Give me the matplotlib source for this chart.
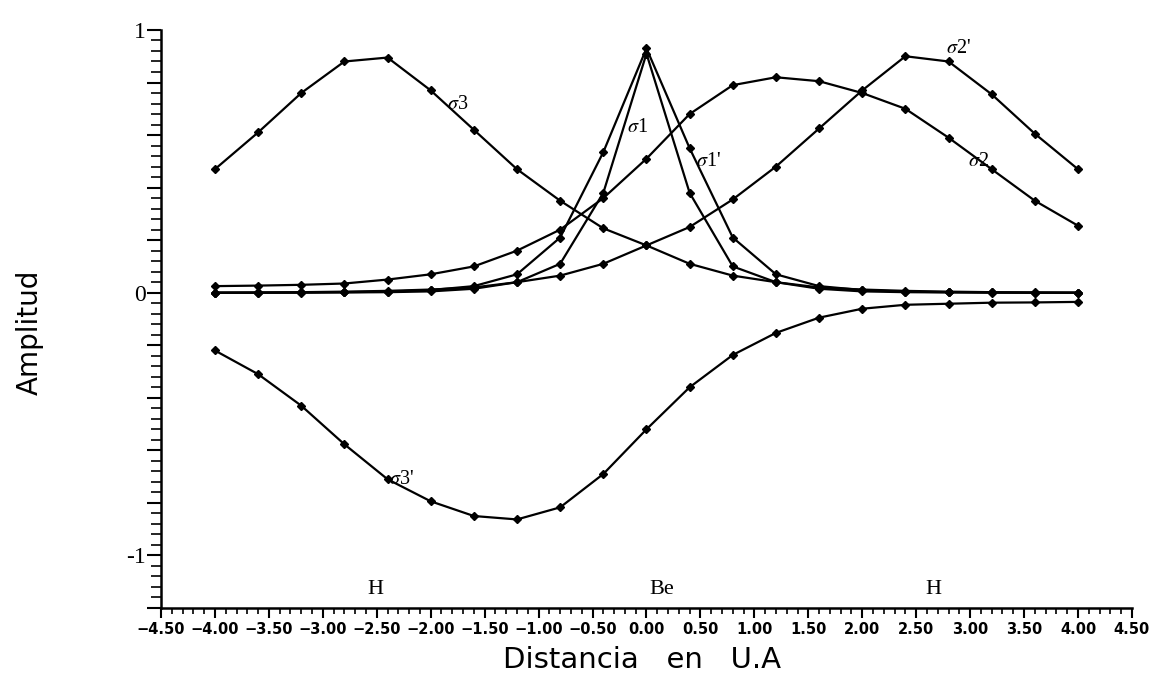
import numpy as np
import matplotlib
matplotlib.use("Agg")
import matplotlib.pyplot as plt
from matplotlib.ticker import FixedLocator, MultipleLocator, FuncFormatter

plt.rcParams['mathtext.fontset'] = 'stix'

# Amplitud de los orbitales sigma a lo largo del eje H-Be-H
x = [-4.0, -3.6, -3.2, -2.8, -2.4, -2.0, -1.6, -1.2, -0.8, -0.4, 0.0,
     0.4, 0.8, 1.2, 1.6, 2.0, 2.4, 2.8, 3.2, 3.6, 4.0]

sigma1 = [0.0, 0.0, 0.0, 0.001, 0.002, 0.005, 0.015, 0.04, 0.11, 0.38, 0.91,
          0.38, 0.10, 0.04, 0.015, 0.005, 0.002, 0.001, 0.0, 0.0, 0.0]
sigma1p = [0.0, 0.0, 0.001, 0.002, 0.004, 0.01, 0.025, 0.07, 0.21, 0.535, 0.93,
           0.55, 0.21, 0.07, 0.025, 0.01, 0.004, 0.002, 0.001, 0.0, 0.0]
sigma2 = [0.025, 0.027, 0.03, 0.035, 0.05, 0.07, 0.10, 0.16, 0.24, 0.36, 0.51,
          0.68, 0.79, 0.82, 0.805, 0.76, 0.70, 0.59, 0.47, 0.35, 0.255]
sigma2p = [0.0, 0.001, 0.002, 0.004, 0.007, 0.012, 0.02, 0.04, 0.065, 0.11, 0.18,
           0.25, 0.355, 0.48, 0.625, 0.77, 0.90, 0.88, 0.755, 0.605, 0.47]
sigma3 = [0.47, 0.61, 0.76, 0.88, 0.895, 0.77, 0.62, 0.47, 0.35, 0.245, 0.18,
          0.11, 0.065, 0.04, 0.02, 0.012, 0.007, 0.004, 0.002, 0.001, 0.0]
sigma3p = [-0.22, -0.31, -0.43, -0.577, -0.71, -0.794, -0.85, -0.863, -0.817, -0.69, -0.52,
           -0.36, -0.237, -0.153, -0.095, -0.061, -0.046, -0.042, -0.038, -0.037, -0.035]

series = [sigma1, sigma1p, sigma2, sigma2p, sigma3, sigma3p]

# etiquetas de las curvas (texto, x, y)
curve_labels = [(r"$\sigma$3", -1.75, 0.716), (r"$\sigma$1", -0.08, 0.63),
                (r"$\sigma$1'", 0.575, 0.50), (r"$\sigma$2'", 2.89, 0.93),
                (r"$\sigma$2", 3.08, 0.50), (r"$\sigma$3'", -2.27, -0.71)]
atom_labels = [("H", -2.51), ("Be", 0.14), ("H", 2.66)]

fig = plt.figure(figsize=(11.54, 6.75), dpi=100)
ax = fig.add_axes([0.1395, 0.0993, 0.8414, 0.8563])

for s in series:
    ax.plot(x, s, color="black", lw=1.6, marker="D", ms=3.6, mfc="black", mec="black")

for txt, tx, ty in curve_labels:
    ax.text(tx, ty, txt, fontsize=14.5, family="Liberation Serif", ha="center", va="center")
for txt, tx in atom_labels:
    ax.text(tx, -1.128, txt, fontsize=16, family="Liberation Serif", ha="center", va="center")

ax.set_xlim(-4.5, 4.5)
ax.set_ylim(-1.2, 1.0)

for side in ["top", "right"]:
    ax.spines[side].set_visible(False)
for side in ["left", "bottom"]:
    ax.spines[side].set_linewidth(1.8)

ax.xaxis.set_major_locator(MultipleLocator(0.5))
ax.xaxis.set_minor_locator(MultipleLocator(0.1))
ax.xaxis.set_major_formatter(FuncFormatter(lambda v, p: ("%.2f" % v).replace("-", "\u2212")))
ax.yaxis.set_major_locator(FixedLocator(np.round(np.arange(-1.2, 1.01, 0.2), 2)))
ax.yaxis.set_minor_locator(MultipleLocator(0.04))
ax.yaxis.set_major_formatter(FuncFormatter(
    lambda v, p: "%d" % round(v) if abs(v - round(v)) < 1e-6 else ""))

ax.tick_params(axis="x", which="major", length=7, width=1.5, direction="out", pad=3)
ax.tick_params(axis="x", which="minor", length=4, width=1.2, direction="out")
ax.tick_params(axis="y", which="major", length=10, width=1.5, direction="out", pad=1)
ax.tick_params(axis="y", which="minor", length=7, width=1.2, direction="out")

for lab in ax.get_xticklabels():
    lab.set_fontweight("bold")
    lab.set_fontsize(10.5)
for lab in ax.get_yticklabels():
    lab.set_family("Liberation Serif")
    lab.set_fontsize(17)

fig.text(0.026, 0.508, "Amplitud", rotation=90, ha="center", va="center",
         fontsize=20, family="DejaVu Sans")
fig.text(0.556, 0.022, "Distancia   en   U.A", ha="center", va="center",
         fontsize=21, family="DejaVu Sans")

fig.savefig("out.png", dpi=100)
